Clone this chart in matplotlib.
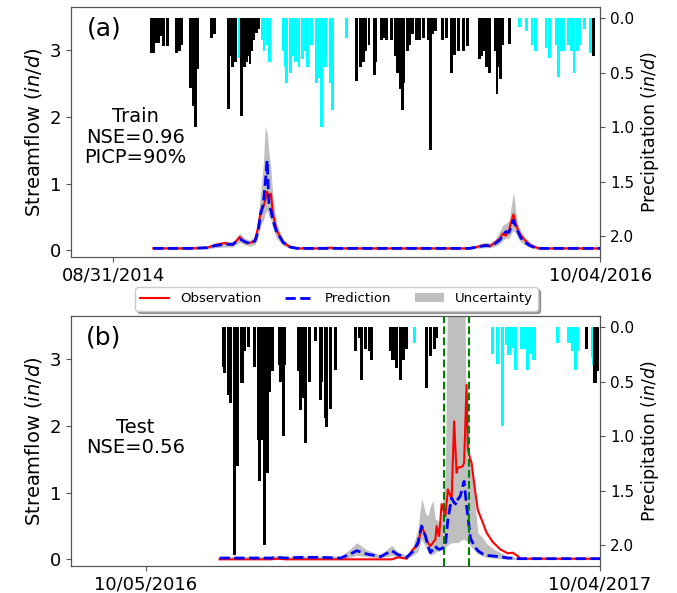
import numpy as np
import matplotlib.pyplot as plt
import matplotlib.dates as mdates
from matplotlib.lines import Line2D
from matplotlib.patches import Patch

plt.rcParams['axes.edgecolor'] = '#555555'

# ---------------- panel (a): training period, days counted from 08/31/2014
base_a = np.datetime64('2014-08-31')
day_a = [63, 89, 121, 148, 160, 176, 188, 199, 207, 215, 223, 228, 232, 236, 239, 242,
         245, 248, 251, 257, 267, 278, 289, 325, 340, 360, 388, 420, 451, 480, 513, 540,
         560, 571, 584, 592, 600, 608, 612, 617, 622, 626, 629, 633, 636, 641, 647, 655,
         663, 670, 700, 730, 765]
obs_a = [0.03, 0.03, 0.03, 0.04, 0.08, 0.11, 0.08, 0.20, 0.12, 0.11, 0.15, 0.35, 0.60, 0.65, 0.75, 0.88,
         0.78, 0.85, 0.55, 0.30, 0.12, 0.05, 0.03, 0.03, 0.04, 0.03, 0.03, 0.03, 0.03, 0.03, 0.03, 0.03,
         0.03, 0.05, 0.08, 0.06, 0.12, 0.18, 0.25, 0.22, 0.30, 0.45, 0.54, 0.38, 0.30, 0.22, 0.15, 0.08,
         0.05, 0.03, 0.03, 0.03, 0.03]
pred_a = [0.03, 0.03, 0.03, 0.04, 0.07, 0.09, 0.09, 0.17, 0.13, 0.10, 0.14, 0.30, 0.55, 0.70, 1.00, 1.35,
          0.65, 0.60, 0.45, 0.28, 0.12, 0.05, 0.03, 0.03, 0.03, 0.03, 0.03, 0.03, 0.03, 0.03, 0.03, 0.03,
          0.03, 0.05, 0.07, 0.07, 0.10, 0.16, 0.22, 0.28, 0.27, 0.38, 0.45, 0.35, 0.28, 0.18, 0.12, 0.07,
          0.04, 0.03, 0.03, 0.03, 0.03]
lo_a = [0.01, 0.01, 0.01, 0.02, 0.04, 0.05, 0.05, 0.12, 0.08, 0.06, 0.09, 0.20, 0.38, 0.45, 0.55, 0.60,
        0.50, 0.45, 0.32, 0.18, 0.07, 0.03, 0.01, 0.01, 0.01, 0.01, 0.01, 0.01, 0.01, 0.01, 0.01, 0.01,
        0.01, 0.03, 0.04, 0.04, 0.06, 0.10, 0.15, 0.18, 0.18, 0.26, 0.30, 0.25, 0.18, 0.12, 0.08, 0.04,
        0.02, 0.01, 0.01, 0.01, 0.01]
hi_a = [0.05, 0.05, 0.05, 0.06, 0.11, 0.14, 0.13, 0.26, 0.18, 0.15, 0.22, 0.50, 0.90, 1.30, 1.87, 1.75,
        1.45, 1.20, 0.80, 0.40, 0.17, 0.08, 0.05, 0.05, 0.06, 0.05, 0.05, 0.05, 0.05, 0.05, 0.05, 0.05,
        0.05, 0.08, 0.12, 0.11, 0.16, 0.30, 0.38, 0.40, 0.45, 0.70, 0.88, 0.55, 0.40, 0.28, 0.20, 0.12,
        0.07, 0.05, 0.05, 0.05, 0.05]

rain_day_a = [61, 64, 68, 71, 75, 79, 86, 99, 104, 107, 121, 124, 127, 130, 133, 155, 159,
              181, 184, 187, 192, 201, 206, 209, 212, 215, 218, 221, 225, 228,
              383, 388, 391, 394, 397, 402, 410, 413, 421, 425, 430, 438, 443, 447, 451, 454,
              457, 462, 466, 471, 477, 482, 487, 495, 498, 502, 507, 517, 523, 532, 537, 542,
              551, 556, 575, 579, 584, 587, 591, 600, 603, 606, 609, 612, 623, 754]
rain_val_a = [0.32, 0.32, 0.23, 0.23, 0.17, 0.26, 0.26, 0.32, 0.30, 0.25, 0.64, 0.55, 0.81, 1.00, 0.47, 0.18, 0.15,
              0.83, 0.35, 0.45, 0.40, 0.90, 0.45, 0.40, 0.35, 0.42, 0.30, 0.20, 0.14, 0.10,
              0.58, 0.45, 0.28, 0.40, 0.30, 0.25, 0.52, 0.40, 0.20, 0.18, 0.20, 0.20, 0.35, 0.50, 0.65, 0.84,
              0.60, 0.30, 0.25, 0.15, 0.20, 0.20, 0.18, 0.20, 1.21, 0.15, 0.12, 0.20, 0.18, 0.50, 0.34, 0.30,
              0.30, 0.26, 0.38, 0.35, 0.30, 0.45, 0.50, 0.30, 0.70, 0.45, 0.56, 0.25, 0.24, 0.35]
snow_day_a = [198, 226, 234, 237, 242, 246, 267, 270, 273, 278, 283, 287, 292, 297, 301, 306,
              312, 319, 323, 327, 331, 334, 341, 345, 367, 382,
              639, 650, 658, 663, 680, 685, 696, 699, 704, 707, 715, 720, 724, 729, 733, 740, 750]
snow_val_a = [0.37, 0.07, 0.20, 0.30, 0.25, 0.40, 0.30, 0.45, 0.60, 0.50, 0.35, 0.40, 0.45, 0.38, 0.30, 0.45,
              0.25, 0.60, 0.55, 1.00, 0.40, 0.45, 0.60, 0.84, 0.18, 0.38,
              0.08, 0.12, 0.25, 0.30, 0.28, 0.37, 0.25, 0.54, 0.30, 0.30, 0.25, 0.30, 0.50, 0.30, 0.25, 0.10, 0.32]

# ---------------- panel (b): test period, days counted from 10/05/2016
base_b = np.datetime64('2016-10-05')
day_b = [59, 83, 100, 105, 112, 124, 140, 156, 164, 169, 177, 188, 197, 202, 209, 214,
         218, 221, 224, 226, 228, 230, 232, 233, 235, 237, 240, 242, 245, 247, 249, 250,
         252, 254, 255, 257, 258, 260, 261, 264, 266, 270, 273, 278, 284, 290, 294, 298,
         300, 330, 364]
obs_b = [0.00, 0.00, 0.00, 0.01, 0.00, 0.00, 0.00, 0.00, 0.00, 0.00, 0.00, 0.00, 0.00, 0.03, 0.01, 0.15,
         0.22, 0.50, 0.35, 0.25, 0.20, 0.25, 0.30, 0.50, 0.35, 0.83, 0.65, 1.05, 0.90, 2.07, 1.30, 1.38,
         1.38, 1.40, 1.45, 2.62, 1.65, 1.50, 1.45, 1.00, 0.74, 0.55, 0.40, 0.26, 0.15, 0.09, 0.10, 0.05,
         0.01, 0.01, 0.01]
pred_b = [0.02, 0.02, 0.02, 0.03, 0.02, 0.03, 0.03, 0.02, 0.08, 0.13, 0.08, 0.04, 0.13, 0.07, 0.03, 0.12,
          0.25, 0.50, 0.35, 0.20, 0.10, 0.15, 0.20, 0.17, 0.15, 0.16, 0.20, 0.60, 0.92, 0.85, 0.82, 0.90,
          0.95, 1.10, 1.17, 0.80, 0.65, 0.33, 0.28, 0.18, 0.13, 0.08, 0.06, 0.05, 0.04, 0.02, 0.02, 0.01,
          0.01, 0.01, 0.01]
lo_b = [0.00, 0.00, 0.00, 0.01, 0.00, 0.01, 0.01, 0.00, 0.03, 0.06, 0.04, 0.02, 0.06, 0.03, 0.01, 0.06,
        0.12, 0.30, 0.20, 0.12, 0.06, 0.08, 0.10, 0.12, 0.12, 0.15, 0.18, 0.22, 0.25, 0.25, 0.25, 0.25,
        0.28, 0.30, 0.30, 0.28, 0.25, 0.20, 0.18, 0.12, 0.08, 0.05, 0.03, 0.02, 0.01, 0.00, 0.00, 0.00,
        0.00, 0.00, 0.00]
hi_b = [0.04, 0.04, 0.04, 0.06, 0.04, 0.05, 0.05, 0.04, 0.16, 0.25, 0.14, 0.07, 0.21, 0.11, 0.06, 0.20,
        0.45, 0.92, 0.70, 0.65, 0.80, 0.88, 0.60, 0.60, 0.55, 0.70, 1.30, 4.50, 5.00, 5.00, 5.00, 5.00,
        5.00, 5.00, 5.00, 1.70, 1.50, 1.45, 1.40, 0.80, 0.40, 0.32, 0.24, 0.16, 0.10, 0.05, 0.04, 0.03,
        0.02, 0.02, 0.02]

rain_day_b = [62, 63, 66, 68, 71, 73, 77, 79, 82, 87, 90, 91, 93, 95, 97, 99, 101, 107, 108, 110, 111,
              122, 124, 126, 128, 131, 136, 140, 141, 144, 145, 148, 152,
              168, 171, 173, 176, 179, 181, 196, 198, 201, 204, 206, 209, 225, 228, 231, 233,
              353, 360, 362]
rain_val_b = [0.37, 0.42, 0.62, 0.70, 2.09, 1.27, 0.51, 0.22, 0.18, 0.37, 1.04, 1.41, 1.04, 2.00, 1.34, 0.60, 0.40, 0.35, 0.50, 1.00, 0.35,
              0.40, 0.76, 0.65, 1.06, 0.50, 0.13, 0.67, 0.50, 0.83, 0.92, 0.75, 0.39,
              0.22, 0.10, 0.49, 0.20, 0.22, 0.30, 0.22, 0.30, 0.38, 0.49, 0.30, 0.20, 0.56, 0.27, 0.20, 0.10,
              0.20, 0.51, 0.40]
snow_day_b = [215, 278, 282, 286, 289, 291, 294, 296, 301, 303, 306, 308, 311, 330, 339, 342, 344, 346, 358, 359]
snow_val_b = [0.15, 0.25, 0.34, 0.91, 0.17, 0.26, 0.19, 0.39, 0.20, 0.20, 0.39, 0.25, 0.30, 0.15, 0.15, 0.22, 0.39, 0.22, 0.28, 0.35]

event_day_b = [239, 259]   # green dashed markers


def to_dates(base, days):
    return base + np.array(days).astype('timedelta64[D]')


def draw_panel(ax, base, days, obs, pred, lo, hi, rd, rv, sd, sv, bar_w, xlim_days, tick_days,
               tag, note, note_y):
    t = to_dates(base, days)
    ax.fill_between(t, lo, hi, color='grey', alpha=0.5, linewidth=0)
    ax.plot(t, obs, color='red', lw=1.5)
    ax.plot(t, pred, color='blue', lw=2, ls='--')
    ax.set_ylim(-0.1, 3.65)
    ax.set_yticks([0, 1, 2, 3])
    ax.set_xlim(to_dates(base, xlim_days))
    ax.set_xticks(to_dates(base, tick_days))
    ax.xaxis.set_major_formatter(mdates.DateFormatter('%m/%d/%Y'))
    ax.tick_params(labelsize=13, color='#555555')
    ax.set_ylabel('Streamflow $\\it{(in/d)}$', fontsize=14)
    ax.text(0.062, 0.915, tag, transform=ax.transAxes, fontsize=18, ha='center', va='center')
    ax.text(0.122, note_y, note, transform=ax.transAxes, fontsize=14, ha='center', va='center',
            linespacing=1.1)

    ax2 = ax.twinx()
    ax2.bar(to_dates(base, sd), sv, width=bar_w, color='cyan', align='center')
    ax2.bar(to_dates(base, rd), rv, width=bar_w, color='black', align='center')
    ax2.set_ylim(2.19, -0.1)
    ax2.set_yticks([0.0, 0.5, 1.0, 1.5, 2.0])
    ax2.set_yticklabels(['0.0', '0.5', '1.0', '1.5', '2.0'])
    ax2.tick_params(labelsize=11, color='#555555')
    ax2.set_ylabel('Precipitation $\\it{(in/d)}$', fontsize=12.5)
    ax2.set_xlim(to_dates(base, xlim_days))
    return ax2


fig = plt.figure(figsize=(6.77, 5.93), dpi=100)
ax_a = fig.add_axes([0.105, 0.5666, 0.7814, 0.4216])
ax_b = fig.add_axes([0.105, 0.0455, 0.7814, 0.4216])

draw_panel(ax_a, base_a, day_a, obs_a, pred_a, lo_a, hi_a,
           rain_day_a, rain_val_a, snow_day_a, snow_val_a, 4.6,
           [-66, 765], [0, 765], '(a)', 'Train\nNSE=0.96\nPICP=90%', 0.48)
draw_panel(ax_b, base_b, day_b, obs_b, pred_b, lo_b, hi_b,
           rain_day_b, rain_val_b, snow_day_b, snow_val_b, 2.6,
           [-60, 364], [0, 364], '(b)', 'Test\nNSE=0.56', 0.515)
for d in event_day_b:
    ax_b.axvline(to_dates(base_b, [d])[0], color='green', ls='--', lw=1.5)

handles = [Line2D([], [], color='red', lw=1.5),
           Line2D([], [], color='blue', lw=2, ls='--'),
           Patch(facecolor='grey', alpha=0.5)]
fig.legend(handles, ['Observation', 'Prediction', 'Uncertainty'], loc='center',
           bbox_to_anchor=(0.497, 0.496), ncol=3, fontsize=9.5, shadow=True,
           columnspacing=1.8, handlelength=2.2)

fig.savefig('out.png', dpi=100)
